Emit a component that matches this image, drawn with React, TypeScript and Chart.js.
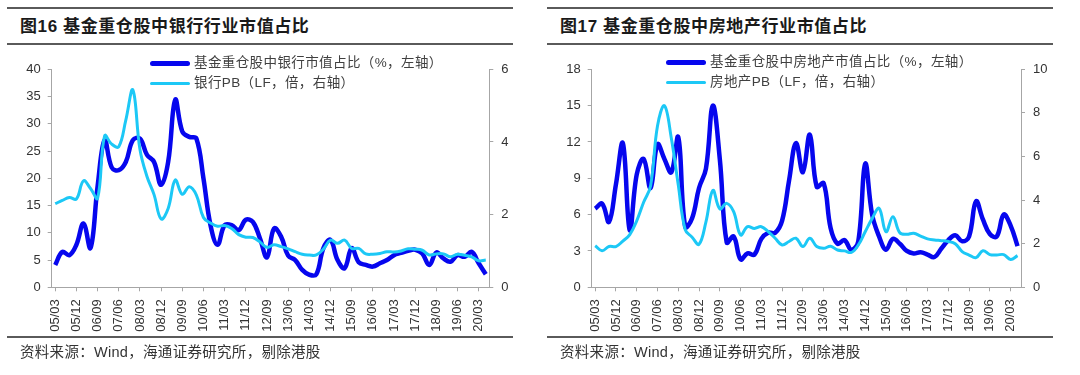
import React, { useEffect, useRef } from 'react';
import { Chart, registerables } from 'chart.js';

Chart.register(...registerables);

// Quarterly report dates (yy/mm)
const quarters: string[] = [
  '05/03', '05/06', '05/09', '05/12', '06/03', '06/06', '06/09', '06/12',
  '07/03', '07/06', '07/09', '07/12', '08/03', '08/06', '08/09', '08/12',
  '09/03', '09/06', '09/09', '09/12', '10/03', '10/06', '10/09', '10/12',
  '11/03', '11/06', '11/09', '11/12', '12/03', '12/06', '12/09', '12/12',
  '13/03', '13/06', '13/09', '13/12', '14/03', '14/06', '14/09', '14/12',
  '15/03', '15/06', '15/09', '15/12', '16/03', '16/06', '16/09', '16/12',
  '17/03', '17/06', '17/09', '17/12', '18/03', '18/06', '18/09', '18/12',
  '19/03', '19/06', '19/09', '19/12', '20/03', '20/06',
];

// Figure 16: banks
const bankShare: number[] = [
  4.1, 6.5, 5.9, 7.8, 11.7, 7.2, 18.5, 27.0, 22.0, 21.5,
  23.0, 27.0, 27.3, 24.3, 23.0, 18.8, 23.0, 34.4, 28.6, 27.6,
  27.3, 20.0, 11.4, 7.8, 11.4, 11.4, 10.5, 12.4, 12.0, 9.0,
  5.5, 10.8, 9.3, 5.8, 5.0, 3.2, 2.3, 2.4, 7.2, 8.7,
  5.0, 3.5, 7.2, 4.6, 4.1, 3.8, 4.4, 5.0, 5.9, 6.3,
  6.7, 6.9, 6.2, 4.1, 6.4, 5.3, 4.7, 5.9, 5.6, 6.5,
  4.4, 2.4,
];
const bankPB: number[] = [
  2.30, 2.39, 2.47, 2.43, 2.93, 2.72, 2.45, 4.17, 3.94, 3.87,
  4.60, 5.43, 3.80, 3.05, 2.55, 1.88, 2.17, 2.95, 2.56, 2.77,
  2.54, 1.92, 1.77, 1.68, 1.70, 1.62, 1.45, 1.38, 1.37, 1.25,
  1.10, 1.17, 1.12, 1.06, 0.98, 0.91, 0.89, 0.89, 1.05, 1.30,
  1.21, 1.30, 1.07, 1.07, 0.92, 0.91, 0.93, 0.98, 0.97, 1.00,
  1.06, 1.05, 1.02, 0.89, 0.92, 0.92, 0.84, 0.91, 0.88, 0.84,
  0.73, 0.75,
];

// Figure 17: real estate
const reShare: number[] = [
  6.5, 6.9, 5.4, 8.5, 11.9, 4.7, 9.3, 10.6, 8.2, 11.8,
  10.6, 9.5, 12.4, 5.0, 5.7, 8.2, 9.8, 15.0, 10.6, 3.7,
  4.2, 2.3, 2.8, 2.7, 4.0, 4.5, 4.5, 5.5, 8.8, 11.9,
  9.5, 12.6, 8.3, 8.6, 4.9, 3.6, 3.9, 3.1, 3.8, 10.2,
  6.0, 4.2, 3.1, 4.0, 3.6, 3.0, 2.8, 2.9, 2.7, 2.5,
  3.2, 3.9, 4.3, 3.8, 4.2, 7.1, 5.6, 4.4, 4.2, 6.0,
  5.1, 3.4,
];
const rePB: number[] = [
  1.91, 1.68, 1.87, 1.87, 2.12, 2.42, 3.05, 3.90, 4.65, 7.40,
  8.33, 6.84, 4.70, 2.65, 2.30, 1.97, 3.00, 4.45, 3.60, 3.85,
  3.47, 2.40, 2.78, 2.70, 2.78, 2.55, 2.25, 1.94, 2.10, 2.25,
  1.87, 2.25, 1.87, 1.79, 1.88, 1.71, 1.67, 1.60, 1.94, 2.55,
  3.15, 3.62, 2.55, 3.24, 2.50, 2.43, 2.48, 2.35, 2.22, 2.17,
  2.14, 2.10, 2.00, 1.64, 1.48, 1.36, 1.68, 1.50, 1.48, 1.50,
  1.28, 1.45,
];

const DARK = '#0606EE';
const CYAN = '#1CC8F6';
const AXIS = '#A6A6A6';
const TEXT = '#333333';
const NUM_FONT = '"Liberation Sans", Arial, sans-serif';
const CJK_FONT = '"Liberation Sans", "Noto Sans CJK SC", sans-serif';

type PanelProps = {
  offsetX: number;
  title: string;
  legendA: string;
  legendB: string;
  share: number[];
  pb: number[];
  yMax: number;
  yStep: number;
  y1Max: number;
  y1Step: number;
  rightAxisWidth: number;
  legendX: number;
  legendY: number;
};

const CANVAS_TOP = 50;
const CANVAS_W = 540;
const CANVAS_H = 290;

function Panel(p: PanelProps) {
  const ref = useRef<HTMLCanvasElement | null>(null);

  useEffect(() => {
    if (!ref.current) return;
    const tickFont = { family: NUM_FONT, size: 13 };
    const chart = new Chart(ref.current, {
      type: 'line',
      data: {
        labels: quarters,
        datasets: [
          {
            label: p.legendB,
            data: p.pb,
            yAxisID: 'y1',
            borderColor: CYAN,
            backgroundColor: CYAN,
            borderWidth: 3,
            pointRadius: 0,
            tension: 0.4,
            fill: false,
            order: 0,
          },
          {
            label: p.legendA,
            data: p.share,
            yAxisID: 'y',
            borderColor: DARK,
            backgroundColor: DARK,
            borderWidth: 4.5,
            pointRadius: 0,
            tension: 0.4,
            fill: false,
            order: 1,
          },
        ],
      },
      options: {
        responsive: false,
        animation: false,
        devicePixelRatio: 1,
        layout: { padding: { top: 19.3, left: 0, right: 0, bottom: 0 } },
        plugins: { legend: { display: false }, tooltip: { enabled: false } },
        scales: {
          x: {
            offset: true,
            grid: { offset: false, drawOnChartArea: false, tickLength: 4, color: AXIS },
            border: { color: AXIS },
            ticks: {
              autoSkip: false,
              minRotation: 90,
              maxRotation: 90,
              padding: 8,
              color: TEXT,
              font: tickFont,
              callback: (_v: any, i: number) => (i % 3 === 0 ? quarters[i] : null),
            },
            afterFit: (s: any) => {
              s.height = 52.7;
            },
          },
          y: {
            position: 'left',
            min: 0,
            max: p.yMax,
            ticks: { stepSize: p.yStep, color: TEXT, font: tickFont, padding: 7 },
            grid: { drawOnChartArea: false, tickLength: 4, color: AXIS },
            border: { color: AXIS },
            afterFit: (s: any) => {
              s.width = 51.7;
            },
          },
          y1: {
            position: 'right',
            min: 0,
            max: p.y1Max,
            ticks: { stepSize: p.y1Step, color: TEXT, font: tickFont, padding: 8 },
            grid: { drawOnChartArea: false, tickLength: 4, color: AXIS },
            border: { color: AXIS },
            afterFit: (s: any) => {
              s.width = p.rightAxisWidth;
            },
          },
        },
      },
    } as any);
    return () => chart.destroy();
  }, []);

  const rule = (top: number, h: number): React.CSSProperties => ({
    position: 'absolute',
    left: 7,
    width: 506,
    top,
    height: h,
    background: '#5a5a5a',
  });

  const legendRow = (y: number, color: string, thick: number, text: string) => (
    <div style={{ position: 'absolute', left: p.legendX, top: y - 10, height: 20, display: 'flex', alignItems: 'center' }}>
      <div style={{ width: 40, height: thick, background: color, borderRadius: thick / 2 }} />
      <span
        style={{
          marginLeft: 4,
          fontFamily: CJK_FONT,
          fontSize: 13.5,
          letterSpacing: 0.4,
          color: '#404040',
          whiteSpace: 'nowrap',
          lineHeight: '20px',
        }}
      >
        {text}
      </span>
    </div>
  );

  return (
    <div style={{ position: 'absolute', left: p.offsetX, top: 0, width: 540, height: 375 }}>
      <div style={rule(6.5, 2)} />
      <div
        style={{
          position: 'absolute',
          left: 20,
          top: 16,
          height: 22,
          lineHeight: '22px',
          fontFamily: CJK_FONT,
          fontWeight: 'bold',
          fontSize: 17,
          letterSpacing: 0.6,
          color: '#1a1a1a',
          whiteSpace: 'nowrap',
        }}
      >
        {p.title}
      </div>
      <div style={rule(43, 2)} />
      <canvas
        ref={ref}
        width={CANVAS_W}
        height={CANVAS_H}
        style={{ position: 'absolute', left: 0, top: CANVAS_TOP, width: CANVAS_W, height: CANVAS_H }}
      />
      {legendRow(p.legendY, DARK, 5, p.legendA)}
      {legendRow(p.legendY + 20, CYAN, 3, p.legendB)}
      <div style={rule(336, 2)} />
      <div
        style={{
          position: 'absolute',
          left: 20,
          top: 342,
          height: 20,
          lineHeight: '20px',
          fontFamily: CJK_FONT,
          fontSize: 14.5,
          letterSpacing: 0.3,
          color: '#333',
          whiteSpace: 'nowrap',
        }}
      >
        资料来源：Wind，海通证券研究所，剔除港股
      </div>
    </div>
  );
}

export default function App() {
  return (
    <div style={{ position: 'absolute', left: 0, top: 0, width: 1080, height: 375, background: '#fff' }}>
      <Panel
        offsetX={0}
        title="图16 基金重仓股中银行行业市值占比"
        legendA="基金重仓股中银行市值占比（%，左轴）"
        legendB="银行PB（LF，倍，右轴）"
        share={bankShare}
        pb={bankPB}
        yMax={40}
        yStep={5}
        y1Max={6}
        y1Step={2}
        rightAxisWidth={50.7}
        legendX={150}
        legendY={63}
      />
      <Panel
        offsetX={540}
        title="图17 基金重仓股中房地产行业市值占比"
        legendA="基金重仓股中房地产市值占比（%，左轴）"
        legendB="房地产PB（LF，倍，右轴）"
        share={reShare}
        pb={rePB}
        yMax={18}
        yStep={3}
        y1Max={10}
        y1Step={2}
        rightAxisWidth={59}
        legendX={126}
        legendY={62}
      />
    </div>
  );
}
